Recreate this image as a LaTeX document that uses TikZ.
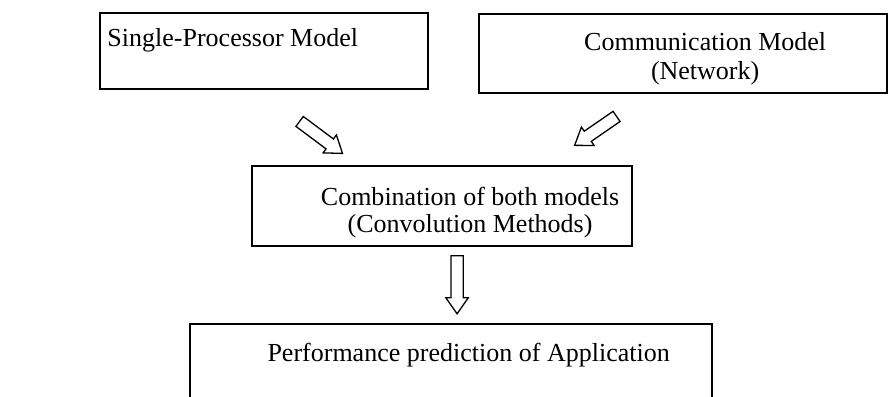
\documentclass[tikz,border=0pt]{standalone}
\usepackage{fontspec}
\setmainfont{Liberation Serif}
\usetikzlibrary{shapes.arrows}

\begin{document}
\begin{tikzpicture}[
    box/.style={draw, line width=0.85pt, inner sep=0pt},
    txt/.style={inner sep=0pt, font=\fontsize{12}{13.4}\selectfont, align=center},
    blockarr/.style={single arrow, draw, line width=0.6pt, inner xsep=0pt, inner ysep=2.55pt,
                     single arrow head extend=2.3pt, single arrow tip angle=70, anchor=tail}
]
\useasboundingbox (0,0) rectangle (14.40,6.423);

% ============================================================
% top row: the two models
% ============================================================
\node[box, minimum width=5.320cm, minimum height=1.233cm] (sp) at (4.282, 5.596) {};
\node[txt, anchor=base west] (sptxt) at (1.736, 5.661) {Single-Processor Model};

\node[box, minimum width=6.618cm, minimum height=1.281cm] (comm) at (11.078, 5.555) {};
\node[txt, anchor=north] (commtxt) at (11.435, 5.900) {Communication Model\\(Network)};

% ============================================================
% middle: combination
% ============================================================
\node[box, minimum width=6.164cm, minimum height=1.298cm] (comb) at (7.169, 3.082) {};
\node[txt, anchor=north, font=\fontsize{12}{12.5}\selectfont] (combtxt) at (7.623, 3.402)
    {Combination of both models\\(Convolution Methods)};

% ============================================================
% bottom: prediction (box runs off the page)
% ============================================================
\node[box, minimum width=8.467cm, minimum height=1.557cm] (perf) at (7.315, 0.389) {};
\node[txt, anchor=base west] (perftxt) at (4.331, 0.568) {Performance prediction of Application};

% block arrows between the rows
\node[blockarr, minimum height=24.7pt, rotate=-36.7] (a1) at (4.850, 4.460) {};
\node[blockarr, minimum height=23.5pt, rotate=-145.4] (a2) at (10.007, 4.541) {};
\node[blockarr, minimum height=26.8pt, rotate=-90] (a3) at (7.412, 2.287) {};
\end{tikzpicture}
\end{document}
